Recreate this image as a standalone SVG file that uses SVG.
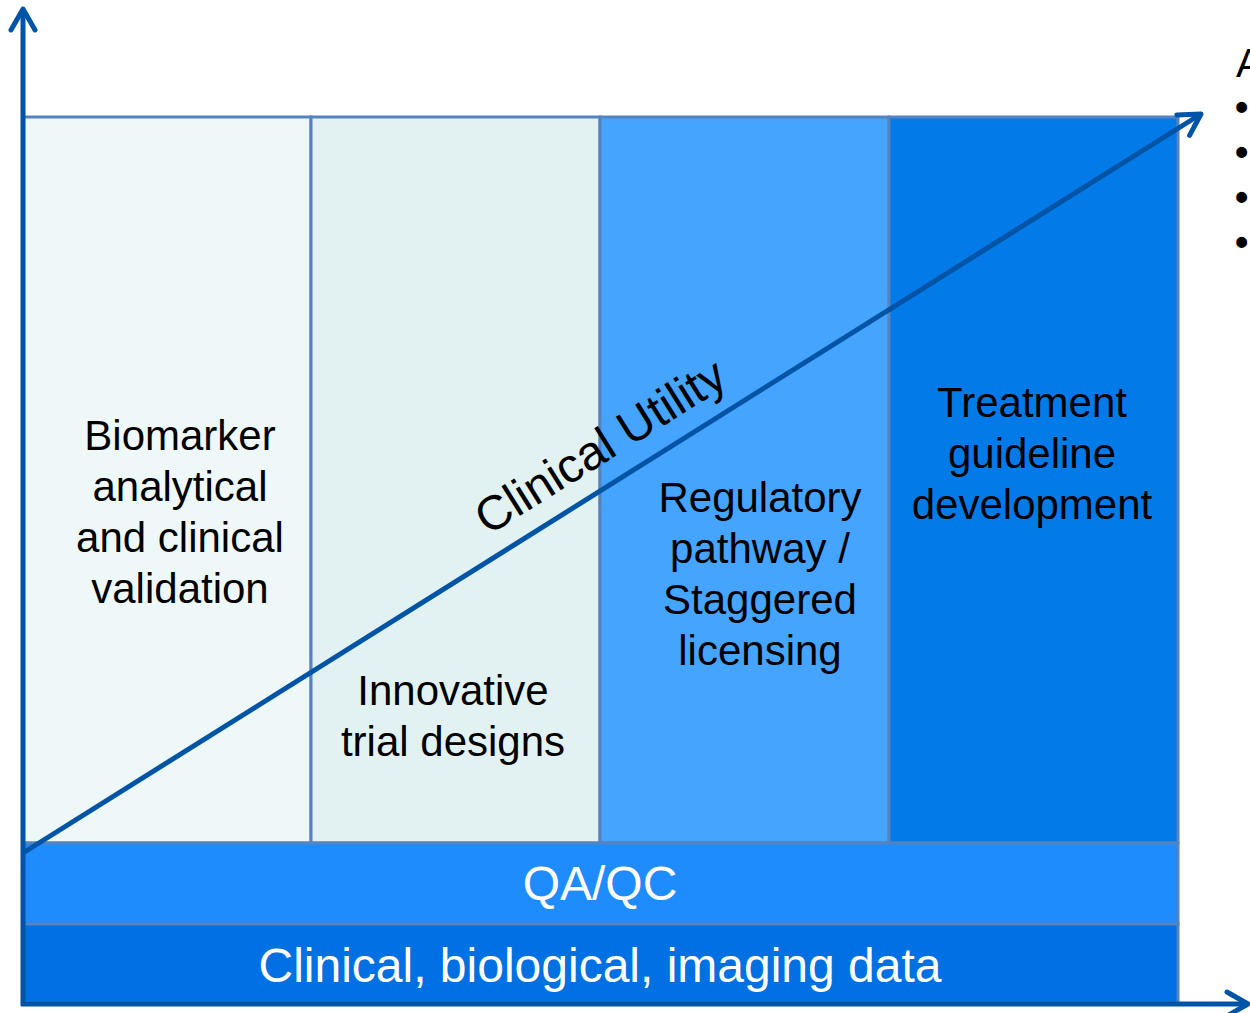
<svg xmlns="http://www.w3.org/2000/svg" width="1250" height="1013" viewBox="0 0 1250 1013">
<style>
.box{stroke:#5583BF;stroke-width:3}
.lbl{font-family:"Liberation Sans",Arial,sans-serif;font-size:42px;fill:#000;text-anchor:middle}
.band{font-family:"Liberation Sans",Arial,sans-serif;font-size:48px;fill:#fff;text-anchor:middle}
.axis{stroke:#0054A6;stroke-width:5;fill:none}
.side{font-family:"Liberation Sans",Arial,sans-serif;font-size:40px;fill:#000}
.bul{font-family:"Liberation Sans",Arial,sans-serif;font-size:38px;font-weight:bold;fill:#000}
</style>
<defs>
<marker id="chev" markerUnits="userSpaceOnUse" viewBox="-30 -20 36 40" refX="0" refY="0" markerWidth="36" markerHeight="40" orient="auto" overflow="visible">
<path d="M-21,-12 L0,0 L-21,12" fill="none" stroke="#0054A6" stroke-width="5" stroke-linecap="round" stroke-linejoin="round"/>
</marker>
</defs>
<rect width="1250" height="1013" fill="#fff"/>
<g id="col1"><rect class="box" x="23" y="117" width="288" height="726" fill="#EFF8F8"/>
<text class="lbl" x="180" y="450">Biomarker</text><text class="lbl" x="180" y="501">analytical</text><text class="lbl" x="180" y="552">and clinical</text><text class="lbl" x="180" y="603">validation</text></g>
<g id="col2"><rect class="box" x="311" y="117" width="289" height="726" fill="#E2F2F2"/>
<text class="lbl" x="453" y="705">Innovative</text><text class="lbl" x="453" y="756">trial designs</text></g>
<g id="col3"><rect class="box" x="600" y="117" width="289" height="726" fill="#45A4FE"/>
<text class="lbl" x="760" y="512">Regulatory</text><text class="lbl" x="760" y="563">pathway /</text><text class="lbl" x="760" y="614">Staggered</text><text class="lbl" x="760" y="665">licensing</text></g>
<g id="col4"><rect class="box" x="889" y="117" width="289" height="726" fill="#027AE8"/>
<text class="lbl" x="1032" y="417">Treatment</text><text class="lbl" x="1032" y="468">guideline</text><text class="lbl" x="1032" y="519">development</text></g>
<g id="qaqc"><rect class="box" x="23" y="843" width="1155" height="81" fill="#1F8CFE"/>
<text class="band" x="600" y="900">QA/QC</text></g>
<g id="data"><rect class="box" x="23" y="924" width="1155" height="79" fill="#0070E2"/>
<text class="band" x="600" y="982">Clinical, biological, imaging data</text></g>
<g id="connectors">
<line class="axis" x1="23" y1="1006" x2="23" y2="9" marker-end="url(#chev)"/>
<line class="axis" x1="21" y1="1004" x2="1248" y2="1004" marker-end="url(#chev)"/>
<line class="axis" x1="23" y1="853" x2="1201" y2="114" marker-end="url(#chev)"/>
</g>
<g id="utility"><text class="lbl" style="text-anchor:start;font-size:48px" transform="translate(488,536) rotate(-32.1)">Clinical Utility</text></g>
<g id="side"><text class="side" x="1236" y="77">A</text>
<text class="bul" x="1235" y="120">•</text><text class="bul" x="1235" y="165">•</text><text class="bul" x="1235" y="210">•</text><text class="bul" x="1235" y="255">•</text></g>
</svg>
